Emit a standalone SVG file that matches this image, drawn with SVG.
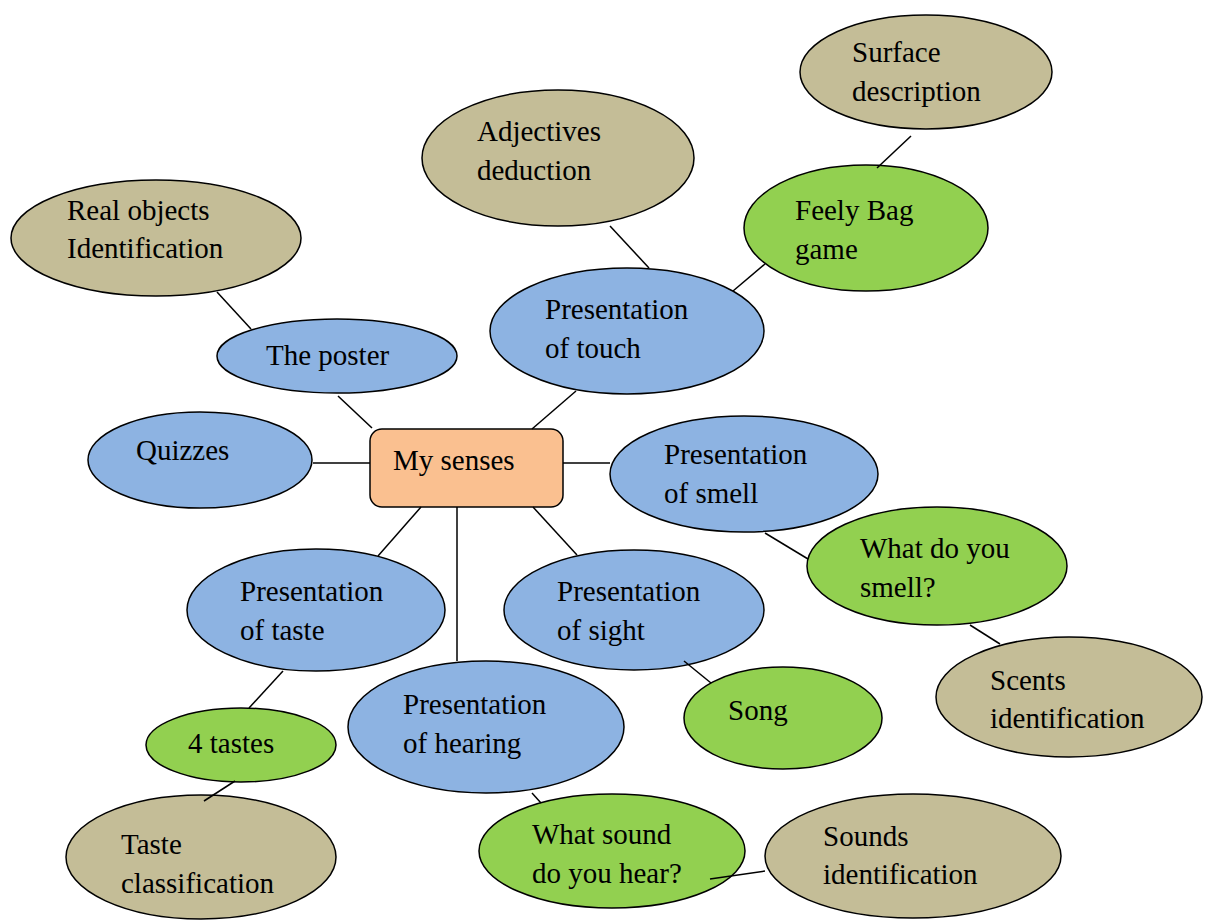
<svg xmlns="http://www.w3.org/2000/svg" width="1210" height="920" viewBox="0 0 1210 920">
<defs>
<style>
.b{fill:#8DB3E2;stroke:#000;stroke-width:1.5}
.g{fill:#92D050;stroke:#000;stroke-width:1.5}
.t{fill:#C4BD97;stroke:#000;stroke-width:1.5}
.o{fill:#FAC090;stroke:#000;stroke-width:1.5}
.l{font-family:"Liberation Serif",serif;font-size:29px;fill:#000}
#connectors line{stroke:#000;stroke-width:1.5}
</style>
</defs>
<rect width="1210" height="920" fill="#fff"/>
<g id="surface"><ellipse class="t" cx="926" cy="72" rx="126" ry="57"/><text class="l" font-family="Liberation Serif" x="852" y="62">Surface</text><text class="l" font-family="Liberation Serif" x="852" y="101">description</text></g>
<g id="adjectives"><ellipse class="t" cx="558" cy="158" rx="136" ry="68"/><text class="l" font-family="Liberation Serif" x="477" y="141">Adjectives</text><text class="l" font-family="Liberation Serif" x="477" y="180">deduction</text></g>
<g id="realobjects"><ellipse class="t" cx="156" cy="238" rx="145" ry="58"/><text class="l" font-family="Liberation Serif" x="67" y="220">Real objects</text><text class="l" font-family="Liberation Serif" x="67" y="258">Identification</text></g>
<g id="feelybag"><ellipse class="g" cx="866" cy="228" rx="122" ry="63"/><text class="l" font-family="Liberation Serif" x="795" y="220">Feely Bag</text><text class="l" font-family="Liberation Serif" x="795" y="259">game</text></g>
<g id="touch"><ellipse class="b" cx="627" cy="331" rx="137" ry="63"/><text class="l" font-family="Liberation Serif" x="545" y="319">Presentation</text><text class="l" font-family="Liberation Serif" x="545" y="358">of touch</text></g>
<g id="poster"><ellipse class="b" cx="337" cy="356" rx="120" ry="37"/><text class="l" font-family="Liberation Serif" x="266" y="365">The poster</text></g>
<g id="quizzes"><ellipse class="b" cx="200" cy="460" rx="112" ry="48"/><text class="l" font-family="Liberation Serif" x="136" y="460">Quizzes</text></g>
<g id="center"><rect class="o" x="370" y="429" width="193" height="78" rx="12"/><text class="l" font-family="Liberation Serif" x="393" y="470">My senses</text></g>
<g id="smell"><ellipse class="b" cx="744" cy="474" rx="134" ry="58"/><text class="l" font-family="Liberation Serif" x="664" y="464">Presentation</text><text class="l" font-family="Liberation Serif" x="664" y="503">of smell</text></g>
<g id="whatsmell"><ellipse class="g" cx="937" cy="566" rx="130" ry="59"/><text class="l" font-family="Liberation Serif" x="860" y="558">What do you</text><text class="l" font-family="Liberation Serif" x="860" y="597">smell?</text></g>
<g id="scents"><ellipse class="t" cx="1069" cy="697" rx="133" ry="60"/><text class="l" font-family="Liberation Serif" x="990" y="690">Scents</text><text class="l" font-family="Liberation Serif" x="990" y="728">identification</text></g>
<g id="taste"><ellipse class="b" cx="316" cy="610" rx="129" ry="61"/><text class="l" font-family="Liberation Serif" x="240" y="601">Presentation</text><text class="l" font-family="Liberation Serif" x="240" y="640">of taste</text></g>
<g id="sight"><ellipse class="b" cx="634" cy="610" rx="130" ry="60"/><text class="l" font-family="Liberation Serif" x="557" y="601">Presentation</text><text class="l" font-family="Liberation Serif" x="557" y="640">of sight</text></g>
<g id="song"><ellipse class="g" cx="783" cy="718" rx="99" ry="51"/><text class="l" font-family="Liberation Serif" x="728" y="720">Song</text></g>
<g id="hearing"><ellipse class="b" cx="486" cy="727" rx="138" ry="66"/><text class="l" font-family="Liberation Serif" x="403" y="714">Presentation</text><text class="l" font-family="Liberation Serif" x="403" y="753">of hearing</text></g>
<g id="fourtastes"><ellipse class="g" cx="241" cy="745" rx="95" ry="37"/><text class="l" font-family="Liberation Serif" x="188" y="753">4 tastes</text></g>
<g id="tasteclass"><ellipse class="t" cx="201" cy="857" rx="135" ry="62"/><text class="l" font-family="Liberation Serif" x="121" y="854">Taste</text><text class="l" font-family="Liberation Serif" x="121" y="893">classification</text></g>
<g id="whatsound"><ellipse class="g" cx="612" cy="851" rx="133" ry="57"/><text class="l" font-family="Liberation Serif" x="532" y="844">What sound</text><text class="l" font-family="Liberation Serif" x="532" y="883">do you hear?</text></g>
<g id="sounds"><ellipse class="t" cx="913" cy="856" rx="148" ry="62"/><text class="l" font-family="Liberation Serif" x="823" y="846">Sounds</text><text class="l" font-family="Liberation Serif" x="823" y="884">identification</text></g>
<g id="connectors">
<line x1="911" y1="136" x2="877" y2="168"/>
<line x1="765" y1="264" x2="733" y2="291"/>
<line x1="610" y1="226" x2="649" y2="268"/>
<line x1="217" y1="292" x2="251" y2="329"/>
<line x1="338" y1="396" x2="372" y2="428"/>
<line x1="576" y1="391" x2="532" y2="429"/>
<line x1="313" y1="463" x2="370" y2="463"/>
<line x1="563" y1="463" x2="610" y2="463"/>
<line x1="765" y1="533" x2="808" y2="559"/>
<line x1="970" y1="625" x2="1000" y2="644"/>
<line x1="421" y1="507" x2="378" y2="556"/>
<line x1="457" y1="507" x2="457" y2="661"/>
<line x1="533" y1="507" x2="577" y2="555"/>
<line x1="283" y1="671" x2="249" y2="708"/>
<line x1="684" y1="661" x2="711" y2="683"/>
<line x1="235" y1="781" x2="204" y2="801"/>
<line x1="532" y1="793" x2="541" y2="803"/>
<line x1="710" y1="879" x2="765" y2="871"/>
</g>
</svg>
